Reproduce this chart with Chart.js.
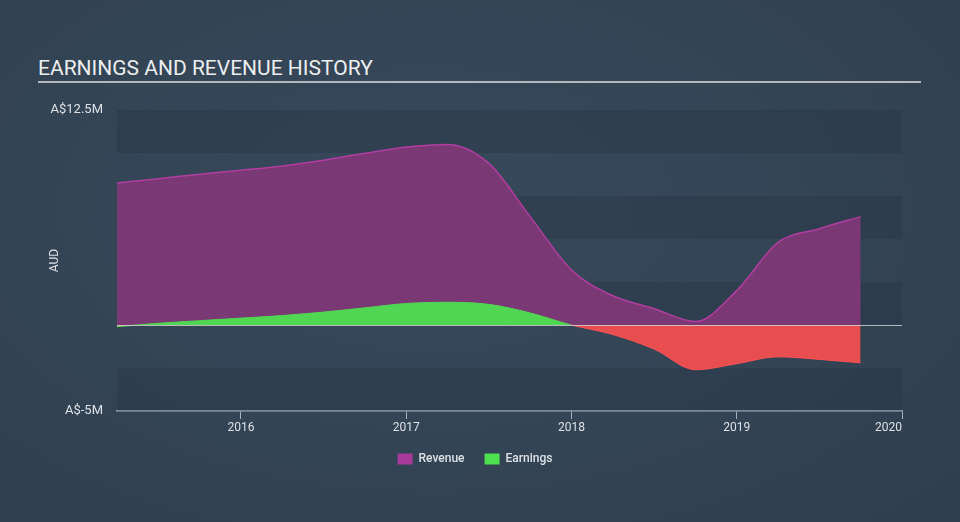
<!DOCTYPE html>
<html>
<head>
<meta charset="utf-8">
<script src="https://cdn.jsdelivr.net/npm/chart.js@4/dist/chart.umd.min.js"></script>
<style>
  html, body { margin: 0; padding: 0; }
  body {
    width: 960px; height: 522px; overflow: hidden; position: relative;
    background: radial-gradient(ellipse at 45% 40%, #36495a 0%, #334455 55%, #303e4d 100%);
    font-family: Roboto, "DejaVu Sans", sans-serif;
  }
  #title {
    position: absolute; left: 38px; top: 55px; width: 883px;
    color: #eceef0; font-size: 21px; line-height: 26px;
    border-bottom: 2px solid #b4b8bc; padding-bottom: 0;
  }
  #wrap { position: absolute; left: 0; top: 0; width: 960px; height: 522px; }
</style>
</head>
<body>
<div id="title">EARNINGS AND REVENUE HISTORY</div>
<div id="wrap"><canvas id="chart"></canvas></div>
<script>
// quarterly points (decimal years)
const quarters = [2015.25, 2015.5, 2015.75, 2016, 2016.25, 2016.5, 2016.75, 2017, 2017.25, 2017.5,
                  2017.75, 2018, 2018.25, 2018.5, 2018.75, 2019, 2019.25, 2019.5, 2019.75];
// values in A$ millions
const revenue  = [8.26, 8.5, 8.77, 9.0, 9.25, 9.58, 9.98, 10.35, 10.5, 9.4,
                  6.3, 3.2, 1.7, 0.95, 0.2, 2.0, 4.8, 5.6, 6.3];
const earnings = [-0.1, 0.1, 0.25, 0.4, 0.55, 0.75, 1.0, 1.25, 1.32, 1.2,
                  0.7, 0.0, -0.55, -1.4, -2.6, -2.25, -1.85, -2.0, -2.2];
const yearTicks = [2016, 2017, 2018, 2019, 2020];
const yMin = -5, yMax = 12.5, bandStep = 2.5;
const yTickLabels = { '12.5': 'A$12.5M', '-5': 'A$-5M' };

const labelColor = '#dde1e5';
const axisColor = '#a9b0b7';

const bandsPlugin = {
    id: 'bands',
    beforeDatasetsDraw(chart) {
        const { ctx, chartArea, scales } = chart;
        const y = scales.y;
        ctx.save();
        let i = 0;
        for (let v = yMax; v > yMin; v -= bandStep, i++) {
            if (i % 2 === 0) {
                const top = y.getPixelForValue(v);
                const bottom = y.getPixelForValue(v - bandStep);
                ctx.fillStyle = 'rgba(38, 50, 64, 0.32)';
                ctx.fillRect(chartArea.left, top, chartArea.right - chartArea.left, bottom - top);
            }
        }
        ctx.restore();
    },
    afterDatasetsDraw(chart) {
        const { ctx, chartArea, scales } = chart;
        const z = Math.round(scales.y.getPixelForValue(0)) + 0.5;
        ctx.save();
        ctx.strokeStyle = 'rgba(215, 215, 210, 0.8)';
        ctx.lineWidth = 1;
        ctx.beginPath();
        ctx.moveTo(chartArea.left, z);
        ctx.lineTo(chartArea.right, z);
        ctx.stroke();
        ctx.restore();
    }
};

new Chart(document.getElementById('chart').getContext('2d'), {
    type: 'line',
    data: {
        datasets: [{
            label: 'Revenue',
            data: quarters.map((q, i) => ({ x: q, y: revenue[i] })),
            borderColor: '#b13ea0',
            backgroundColor: '#a93a9a',
            borderWidth: 1.5,
            fill: { target: 'origin', above: '#7a3874', below: '#7a3874' },
            order: 1
        }, {
            label: 'Earnings',
            data: quarters.map((q, i) => ({ x: q, y: earnings[i] })),
            borderColor: '#4fd653',
            backgroundColor: '#4fe04f',
            borderWidth: 1,
            segment: {
                borderColor: c => (c.p0.parsed.y + c.p1.parsed.y) / 2 < 0 ? '#ff5252' : '#50d652'
            },
            fill: { target: 'origin', above: '#50d652', below: '#e84e50' },
            order: 0
        }]
    },
    options: {
        responsive: true,
        maintainAspectRatio: false,
        animation: false,
        cubicInterpolationMode: 'monotone',
        elements: { point: { radius: 0, hoverRadius: 0 } },
        layout: { padding: { left: 48, right: 58, top: 110, bottom: 47 } },
        plugins: {
            tooltip: { enabled: false },
            legend: {
                position: 'bottom',
                labels: {
                    color: labelColor,
                    boxWidth: 15,
                    boxHeight: 11,
                    padding: 20,
                    font: { family: 'Roboto', size: 12, weight: '500' },
                    generateLabels(chart) {
                        return chart.data.datasets.map((ds, i) => ({
                            text: ds.label,
                            fillStyle: ds.backgroundColor,
                            strokeStyle: ds.backgroundColor,
                            lineWidth: 0,
                            fontColor: labelColor,
                            datasetIndex: i
                        }));
                    }
                }
            }
        },
        scales: {
            x: {
                type: 'linear',
                min: quarters[0],
                max: 2020,
                afterBuildTicks(scale) {
                    scale.ticks = [quarters[0]].concat(yearTicks).map(v => ({ value: v }));
                },
                afterFit(scale) { scale.height = 22; },
                grid: {
                    drawOnChartArea: false,
                    tickLength: 8,
                    color: c => Number.isInteger(c.tick && c.tick.value) ? axisColor : 'rgba(0,0,0,0)'
                },
                border: { display: true, color: axisColor, width: 1.5 },
                ticks: {
                    color: labelColor,
                    align: 'inner',
                    maxRotation: 0,
                    autoSkip: false,
                    padding: 2,
                    font: { family: 'Roboto', size: 12 },
                    callback: v => Number.isInteger(v) ? String(v) : ''
                }
            },
            y: {
                min: yMin,
                max: yMax,
                afterBuildTicks(scale) {
                    scale.ticks = [yMin, yMax].map(v => ({ value: v }));
                },
                afterFit(scale) { scale.width = 69; },
                grid: { display: false, drawTicks: false },
                border: { display: false },
                title: {
                    display: true,
                    text: 'AUD',
                    color: labelColor,
                    font: { family: 'Roboto', size: 12 },
                    padding: { top: 0, bottom: 0 }
                },
                ticks: {
                    color: labelColor,
                    padding: 14,
                    font: { family: 'Roboto', size: 13 },
                    callback: v => yTickLabels[String(v)] || ''
                }
            }
        }
    },
    plugins: [bandsPlugin]
});
</script>
</body>
</html>
